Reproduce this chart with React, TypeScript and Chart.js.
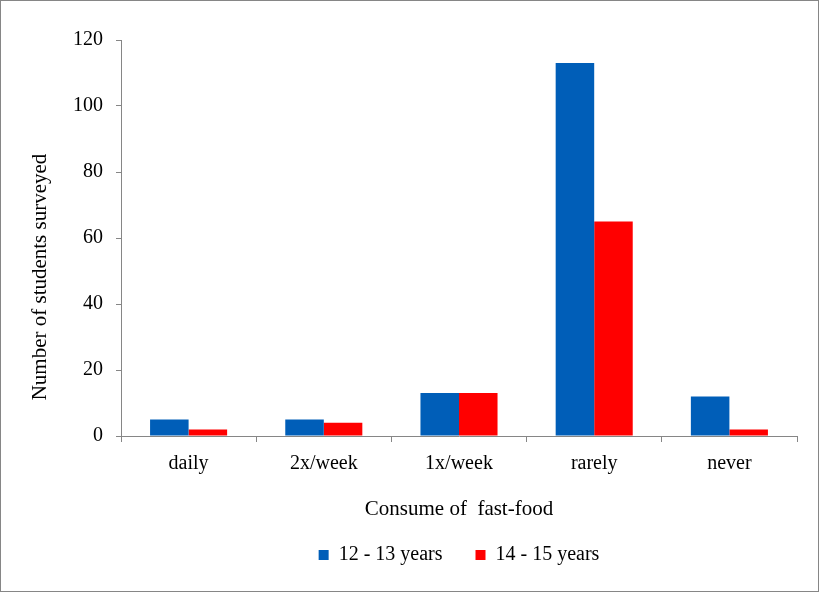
import React, { useEffect, useRef } from "react";
import { Chart, registerables } from "chart.js";

Chart.register(...registerables);

const categories = ["daily", "2x/week", "1x/week", "rarely", "never"];
const series1Label = "12 - 13 years";
const series2Label = "14 - 15 years";
const series1 = [5, 5, 13, 113, 12];
const series2 = [2, 4, 13, 65, 2];
const yTicks = [0, 20, 40, 60, 80, 100, 120];
const xTitle = "Consume of  fast-food";
const yTitle = "Number of students surveyed";

export default function App() {
  const ref = useRef<HTMLCanvasElement | null>(null);

  useEffect(() => {
    document.body.style.margin = "0";
    const ctx = ref.current!;
    const font = "'Liberation Serif', 'Times New Roman', serif";
    const axisColor = "#868686";
    Chart.defaults.font.family = font;
    Chart.defaults.color = "#000";

    const yTitlePlugin = {
      id: "yTitlePlugin",
      afterDraw(chart: any) {
        const { ctx: c, chartArea } = chart;
        c.save();
        c.translate(39, (chartArea.top + chartArea.bottom) / 2 + 39);
        c.rotate(-Math.PI / 2);
        c.font = `21px ${font}`;
        c.fillStyle = "#000";
        c.textAlign = "center";
        c.textBaseline = "middle";
        c.fillText(yTitle, 0, 0);
        c.restore();
      },
    };

    const chart = new Chart(ctx, {
      type: "bar",
      data: {
        labels: categories,
        datasets: [
          { label: series1Label, data: series1, backgroundColor: "#005EB8", borderWidth: 0 },
          { label: series2Label, data: series2, backgroundColor: "#FF0000", borderWidth: 0 },
        ],
      },
      plugins: [yTitlePlugin],
      options: {
        responsive: false,
        animation: false,
        devicePixelRatio: 1,
        layout: { padding: { top: 39, right: 21, left: 0, bottom: 16 } },
        datasets: { bar: { categoryPercentage: 0.57, barPercentage: 1 } },
        plugins: {
          tooltip: { enabled: false },
          legend: {
            position: "bottom",
            fullSize: false,
            labels: {
              color: "#000",
              font: { family: font, size: 20 },
              boxWidth: 10,
              boxHeight: 10,
              padding: 33,
            },
          },
        },
        scales: {
          x: {
            grid: { display: true, drawOnChartArea: false, drawTicks: true, tickLength: 6, color: axisColor, offset: true },
            border: { color: axisColor, width: 1 },
            ticks: { color: "#000", font: { family: font, size: 20 }, padding: 10 },
            title: { display: true, text: xTitle, color: "#000", font: { family: font, size: 21 }, padding: { top: 0, bottom: -10 } },
            afterFit: (s: any) => { s.height = 76; },
          },
          y: {
            min: 0,
            max: 120,
            afterBuildTicks: (s: any) => { s.ticks = yTicks.map((v) => ({ value: v })); },
            grid: { display: true, drawOnChartArea: false, drawTicks: true, tickLength: 5, color: axisColor },
            border: { color: axisColor, width: 1 },
            ticks: { color: "#000", font: { family: font, size: 20 }, padding: 13 },
            title: { display: false, text: yTitle },
            afterFit: (s: any) => { s.width = 120; },
          },
        },
      },
    });
    return () => chart.destroy();
  }, []);

  return (
    <div style={{ position: "relative", width: 819, height: 592, boxSizing: "border-box", border: "1px solid #868686", background: "#fff" }}>
      <canvas ref={ref} width={817} height={590} style={{ display: "block" }} />
    </div>
  );
}
